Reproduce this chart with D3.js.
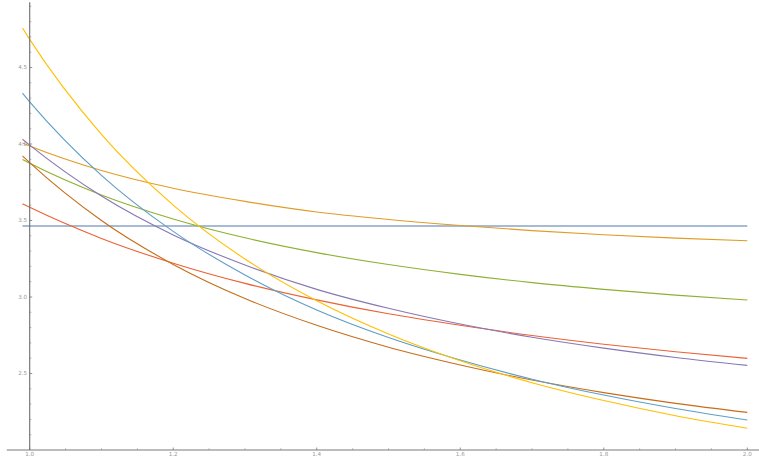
<!DOCTYPE html>
<html>
<head>
<meta charset="utf-8">
<script src="https://d3js.org/d3.v7.min.js"></script>
<style>
  body { margin: 0; background: #fff; }
  #chart text { font-family: "DejaVu Sans", sans-serif; }
</style>
</head>
<body>
<div id="chart"></div>
<script>
// Sample points along x (curves start just left of the axis)
var xValues = [0.99, 1.0, 1.1, 1.2, 1.3, 1.4, 1.5, 1.6, 1.7, 1.8, 1.9, 2.0];

// Values, one array per curve
var constLine = [3.464, 3.464, 3.464, 3.464, 3.464, 3.464, 3.464, 3.464, 3.464, 3.464, 3.464, 3.464];
var orangeVals = [4.006, 3.987, 3.827, 3.711, 3.625, 3.556, 3.507, 3.467, 3.434, 3.407, 3.385, 3.368];
var greenVals = [3.898, 3.874, 3.667, 3.510, 3.387, 3.290, 3.212, 3.148, 3.094, 3.050, 3.012, 2.980];
var redVals = [3.609, 3.586, 3.383, 3.221, 3.089, 2.981, 2.890, 2.815, 2.748, 2.691, 2.642, 2.599];
var purpleVals = [4.031, 3.993, 3.660, 3.406, 3.209, 3.050, 2.926, 2.823, 2.737, 2.666, 2.605, 2.553];
var brownVals = [3.922, 3.878, 3.500, 3.213, 2.990, 2.815, 2.672, 2.556, 2.457, 2.375, 2.305, 2.246];
var lightBlueVals = [4.332, 4.276, 3.795, 3.429, 3.144, 2.915, 2.735, 2.588, 2.463, 2.359, 2.271, 2.196];
var yellowVals = [4.758, 4.684, 4.063, 3.601, 3.248, 2.975, 2.758, 2.583, 2.440, 2.323, 2.224, 2.142];

// Tick values
var xMajorTicks = [1.0, 1.2, 1.4, 1.6, 1.8, 2.0];
var xMinorTicks = [1.05, 1.1, 1.15, 1.25, 1.3, 1.35, 1.45, 1.5, 1.55, 1.65, 1.7, 1.75, 1.85, 1.9, 1.95];
var yMajorTicks = [2.5, 3.0, 3.5, 4.0, 4.5];
var yMinorTicks = [2.1, 2.2, 2.3, 2.4, 2.6, 2.7, 2.8, 2.9, 3.1, 3.2, 3.3, 3.4, 3.6, 3.7, 3.8, 3.9, 4.1, 4.2, 4.3, 4.4, 4.6, 4.7, 4.8, 4.9];

var series = [
    { values: constLine, color: "#5E81B5", width: 2.2, opacity: 0.55 },
    { values: orangeVals, color: "#E19C24", width: 1.1, opacity: 1 },
    { values: greenVals, color: "#8FB032", width: 1.1, opacity: 1 },
    { values: redVals, color: "#EB6235", width: 1.1, opacity: 1 },
    { values: purpleVals, color: "#8778B3", width: 1.1, opacity: 1 },
    { values: brownVals, color: "#C56E1A", width: 1.1, opacity: 1 },
    { values: lightBlueVals, color: "#5D9EC7", width: 1.1, opacity: 1 },
    { values: yellowVals, color: "#FFBF00", width: 1.1, opacity: 1 }
];

var width = 759, height = 457;

var svg = d3.select("#chart")
    .append("svg")
    .attr("width", width)
    .attr("height", height);

var x = d3.scaleLinear().domain([1, 2]).range([29.7, 747.3]);
var y = d3.scaleLinear().domain([2, 4.5]).range([450, 67.5]);

// Curves
var line = d3.line()
    .x(function(d) { return x(d[0]); })
    .y(function(d) { return y(d[1]); })
    .curve(d3.curveMonotoneX);

svg.append("g")
    .selectAll("path")
    .data(series)
    .enter().append("path")
    .attr("fill", "none")
    .attr("stroke", d => d.color)
    .attr("stroke-width", d => d.width)
    .attr("stroke-opacity", d => d.opacity)
    .attr("d", d => line(xValues.map((xv, i) => [xv, d.values[i]])));

// Axes lines (Mathematica style, crossing at (1, 2))
svg.append("line")
    .attr("x1", x(0.968)).attr("x2", width)
    .attr("y1", y(2)).attr("y2", y(2))
    .attr("stroke", "#a6a6a6").attr("stroke-width", 1.4);

svg.append("line")
    .attr("x1", x(1)).attr("x2", x(1))
    .attr("y1", y(4.9) - 4).attr("y2", y(2))
    .attr("stroke", "#6e6e6e").attr("stroke-width", 1.1);

// Ticks point into the plot
var xAxis = svg.append("g").attr("transform", "translate(0," + y(2) + ")");
xAxis.selectAll(".maj").data(xMajorTicks).enter().append("line")
    .attr("x1", d => x(d)).attr("x2", d => x(d))
    .attr("y1", 0).attr("y2", -2.5)
    .attr("stroke", "#777").attr("stroke-width", 0.8);
xAxis.selectAll(".min").data(xMinorTicks).enter().append("line")
    .attr("x1", d => x(d)).attr("x2", d => x(d))
    .attr("y1", 0).attr("y2", -1.6)
    .attr("stroke", "#888").attr("stroke-width", 0.7);
xAxis.selectAll("text").data(xMajorTicks).enter().append("text")
    .attr("x", d => x(d))
    .attr("y", 6.3)
    .attr("text-anchor", "middle")
    .attr("font-size", "5.6px")
    .attr("fill", "#999")
    .text(d => d3.format(".1f")(d));

var yAxis = svg.append("g").attr("transform", "translate(" + x(1) + ",0)");
yAxis.selectAll(".maj").data(yMajorTicks).enter().append("line")
    .attr("x1", 0).attr("x2", 2.5)
    .attr("y1", d => y(d)).attr("y2", d => y(d))
    .attr("stroke", "#777").attr("stroke-width", 0.8);
yAxis.selectAll(".min").data(yMinorTicks).enter().append("line")
    .attr("x1", 0).attr("x2", 1.6)
    .attr("y1", d => y(d)).attr("y2", d => y(d))
    .attr("stroke", "#888").attr("stroke-width", 0.7);
yAxis.selectAll("text").data(yMajorTicks).enter().append("text")
    .attr("x", -2.6)
    .attr("y", d => y(d))
    .attr("dy", "0.35em")
    .attr("text-anchor", "end")
    .attr("font-size", "5.6px")
    .attr("fill", "#999")
    .text(d => d3.format(".1f")(d));
</script>
</body>
</html>
